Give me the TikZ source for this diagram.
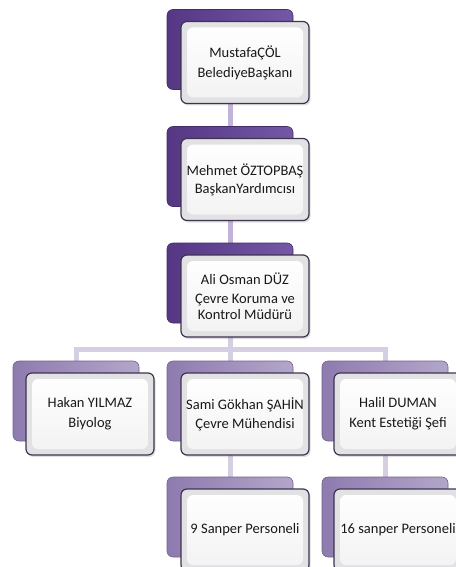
\documentclass[tikz,border=0pt]{standalone}
\usepackage{fontspec}
\setmainfont{Carlito}
\usetikzlibrary{backgrounds,shadows}
\definecolor{dkA}{HTML}{553784}
\definecolor{dkB}{HTML}{7458A6}
\definecolor{ltA}{HTML}{8E7BAF}
\definecolor{ltB}{HTML}{B3A6CA}
\definecolor{conA}{HTML}{C2B4D8}
\definecolor{conB}{HTML}{D6CEE3}
\definecolor{edgec}{HTML}{3E3450}
\definecolor{bevelc}{HTML}{E2E2E5}
\tikzset{
  backdark/.style={rounded corners=6pt, minimum width=126pt, minimum height=80pt,
    left color=dkA, right color=dkB, draw=dkA!80!black, line width=0.6pt, inner sep=0pt},
  backlight/.style={rounded corners=6pt, minimum width=126pt, minimum height=80pt,
    left color=ltA, right color=ltB, draw=ltA!80!black, line width=0.6pt, inner sep=0pt},
  frontbox/.style={rounded corners=6pt, minimum width=128pt, minimum height=82pt,
    draw=edgec, line width=1.2pt, fill=bevelc, align=center,
    font=\fontsize{14.5}{18}\selectfont, text=black!90, inner sep=0pt,
    drop shadow={shadow xshift=1.5pt, shadow yshift=-2pt, opacity=0.25},
    path picture={\fill[top color=white, bottom color=white!95!black]
      ([xshift=6pt,yshift=-6pt]path picture bounding box.north west) rectangle
      ([xshift=-6pt,yshift=6pt]path picture bounding box.south east);}},
  connA/.style={line width=5pt, draw=conA},
  connB/.style={line width=5pt, draw=conB},
}
\begin{document}
\begin{tikzpicture}[x=1pt,y=-1pt]
\useasboundingbox (0,0) rectangle (455,567);
\node[backdark]  (b1) at (230,49.5) {};
\node[frontbox]  (f1) at (245,62.5) {MustafaÇÖL\\[2pt]BelediyeBaşkanı};
\node[backdark]  (b2) at (230,166.5) {};
\node[frontbox]  (f2) at (245,179.5) {Mehmet ÖZTOPBAŞ\\BaşkanYardımcısı};
\node[backdark]  (b3) at (230,283) {};
\node[frontbox]  (f3) at (245,296) {Ali Osman DÜZ\\[1pt]Çevre Koruma ve\\[-2pt]Kontrol Müdürü};
\node[backlight] (bL) at (76,401) {};
\node[frontbox]  (fL) at (90,414) {Hakan YILMAZ\\[2pt]Biyolog};
\node[backlight] (bM) at (230,401) {};
\node[frontbox]  (fM) at (245,414) {Sami Gökhan ŞAHİN\\[1pt]Çevre Mühendisi};
\node[backlight] (bR) at (385,401) {};
\node[frontbox]  (fR) at (398,414) {Halil DUMAN\\[2pt]Kent Estetiği Şefi};
\node[backlight] (bM4) at (230,517) {};
\node[frontbox]  (fM4) at (245,530) {9 Sanper Personeli};
\node[backlight] (bR4) at (385,517) {};
\node[frontbox]  (fR4) at (398,530) {16 sanper Personeli};
\coordinate (bus) at (0,349);
\begin{scope}[on background layer]
  \draw[connA] (b1.south) -- (b2.north);
  \draw[connA] (b2.south) -- (b3.north);
  \draw[connB] (b3.south) -- (b3.south |- bus);
  \draw[connB] (bL.north) -- (bL.north |- bus) -- (bR.north |- bus) -- (bR.north);
  \draw[connB] (bM.north) -- (bM.north |- bus);
  \draw[connB] (bM.south) -- (bM4.north);
  \draw[connB] (bR.south) -- (bR4.north);
\end{scope}
\end{tikzpicture}
\end{document}
